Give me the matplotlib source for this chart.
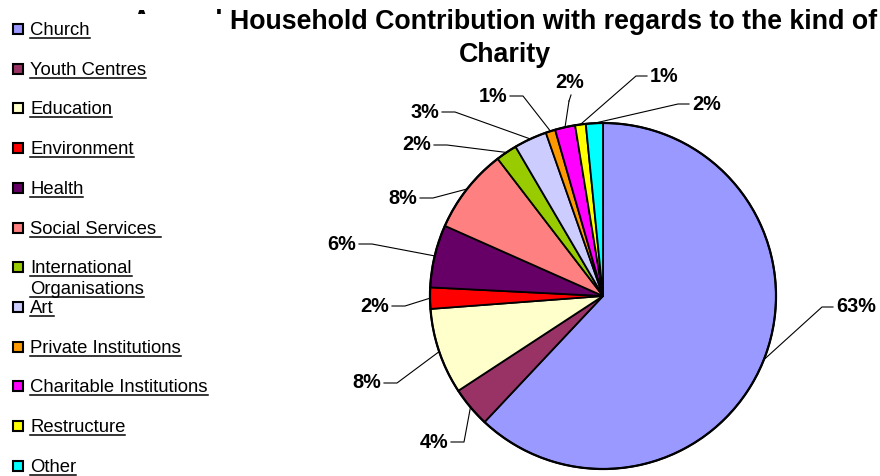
import matplotlib
matplotlib.use("Agg")
import matplotlib.pyplot as plt
from matplotlib.patches import Rectangle
from matplotlib.lines import Line2D
from matplotlib.transforms import IdentityTransform
import numpy as np

# ---- data ----
categories = ["Church", "Youth Centres", "Education", "Environment", "Health",
              "Social Services ", "International\nOrganisations", "Art",
              "Private Institutions", "Charitable Institutions", "Restructure", "Other"]
values = [62.5, 3.8, 8.1, 2.0, 5.9, 8.0, 2.0, 3.1, 0.9, 1.9, 1.0, 1.6]
pct_labels = ["63%", "4%", "8%", "2%", "6%", "8%", "2%", "3%", "1%", "2%", "1%", "2%"]
colors = ["#9999FF", "#993366", "#FFFFCC", "#FF0000", "#660066", "#FF8080",
          "#99CC00", "#CCCCFF", "#FF9900", "#FF00FF", "#FFFF00", "#00FFFF"]
title = "Annual Household Contribution with regards to the kind of\nCharity"

# ---- layout (pixels, origin top-left) ----
W, H = 880, 476
center_px = (603, 296)
radius = 173
label_pos = [(836, 307, "left"), (448, 442, "right"), (381, 383, "right"),
             (389, 306, "right"), (356, 244, "right"), (417, 198, "right"),
             (431, 145, "right"), (439, 112, "right"), (507, 96, "right"),
             (570, 83, "center"), (650, 76, "left"), (692, 104, "left")]

plt.rcParams['font.family'] = ['Liberation Sans', 'DejaVu Sans']
fig = plt.figure(figsize=(W / 100, H / 100), dpi=100)
ax = fig.add_axes([0, 0, 1, 1])

cx, cy = center_px[0], H - center_px[1]
wedges, _ = ax.pie(values, colors=colors, startangle=90, counterclock=False,
                   center=(cx, cy), radius=radius,
                   wedgeprops=dict(edgecolor="black", linewidth=1.3))
ax.add_patch(plt.Circle((cx, cy), radius, fill=False, edgecolor="black", lw=1.6, zorder=5))
ax.set_xlim(0, W)
ax.set_ylim(0, H)
ax.set_aspect("equal")
ax.axis("off")

total = sum(values)
cum = 0
for i, v in enumerate(values):
    mid = 90 - 360 * (cum + v / 2) / total
    cum += v
    ax_x = cx + radius * np.cos(np.radians(mid))
    ax_y = cy + radius * np.sin(np.radians(mid))
    tx, ty, ha = label_pos[i]
    ty = H - ty
    if ha == "left":
        ex, ey = tx - 14, ty
        ax.plot([ax_x, ex, tx - 3], [ax_y, ey, ey], color="black", lw=0.8)
    elif ha == "right":
        ex, ey = tx + 16, ty
        ax.plot([ax_x, ex, tx + 3], [ax_y, ey, ey], color="black", lw=0.8)
    else:
        ax.plot([ax_x, tx - 1], [ax_y, ty - 18], color="black", lw=0.8)
        ax.plot([tx - 1, tx + 1], [ty - 18, ty - 12], color="black", lw=0.8)
    ax.text(tx, ty, pct_labels[i], ha=ha, va="center", fontsize=14.3, fontweight="bold")

# title (drawn behind the legend, as in the reference)
for j, line in enumerate(title.split("\n")):
    fig.text(505 / W, 1 - (29 + 33 * j) / H, line, ha="center", va="baseline",
             fontsize=19.3, fontweight="bold", zorder=3)

# legend background
fig.patches.append(Rectangle((0, 0), 224 / W, 1 - 14 / H, transform=fig.transFigure,
                             facecolor="white", edgecolor="none", zorder=4))

legend_texts = []
for i, (cat, col) in enumerate(zip(categories, colors)):
    base = 35 + 39.7 * i
    fig.patches.append(Rectangle((13 / W, 1 - (base - 1) / H), 10 / W, 10 / H,
                                 transform=fig.transFigure, facecolor=col,
                                 edgecolor="black", lw=1.5, zorder=5))
    for j, line in enumerate(cat.split("\n")):
        t = fig.text(30 / W, 1 - (base + 21 * j) / H, line, ha="left", va="baseline",
                     fontsize=13.3, zorder=6)
        legend_texts.append(t)

fig.canvas.draw()
r = fig.canvas.get_renderer()
for t in legend_texts:
    bb = t.get_window_extent(r)
    xb, yb = t.get_transform().transform(t.get_position())
    fig.add_artist(Line2D([bb.x0, bb.x1], [yb - 3, yb - 3], transform=IdentityTransform(),
                          color="black", lw=1.1, zorder=6))

fig.savefig("out.png", dpi=100)
